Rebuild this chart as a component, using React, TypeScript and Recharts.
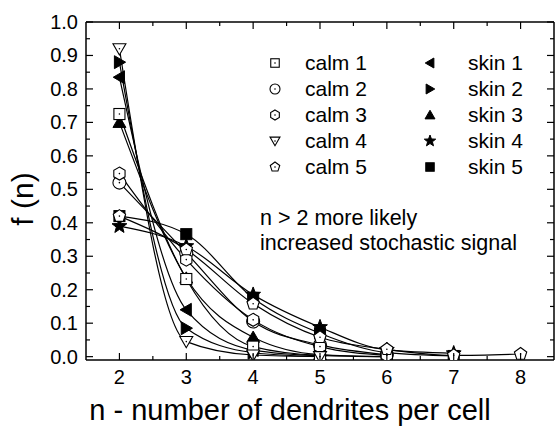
import React from 'react';
import { LineChart, Line, XAxis, YAxis, Label, ReferenceLine } from 'recharts';

document.body.style.margin = '0';

// n values (x) and fitted fractions per series
const nValues = [2, 3, 4, 5, 6, 7, 8];

const calm1 = [0.725, 0.232, 0.03, 0.004, 0.0, null, null];
const calm2 = [0.52, 0.31, 0.105, 0.035, 0.006, null, null];
const calm3 = [0.547, 0.29, 0.11, 0.03, 0.004, null, null];
const calm4 = [0.92, 0.045, 0.005, 0.0, null, null, null];
const calm5 = [0.42, 0.32, 0.158, 0.058, 0.022, 0.004, 0.008];
const skin1 = [0.835, 0.14, 0.02, 0.002, null, null, null];
const skin2 = [0.88, 0.085, 0.012, 0.0, null, null, null];
const skin3 = [0.7, 0.235, 0.058, 0.006, 0.0, null, null];
const skin4 = [0.39, 0.33, 0.185, 0.088, 0.02, 0.01, null];
const skin5 = [0.42, 0.366, 0.175, 0.07, 0.012, 0.002, null];

const seriesNames = ['calm 1', 'calm 2', 'calm 3', 'calm 4', 'calm 5', 'skin 1', 'skin 2', 'skin 3', 'skin 4', 'skin 5'];
const seriesShapes = ['square', 'circle', 'hexagon', 'down', 'pentagon', 'left', 'right', 'up', 'star', 'fsquare'];
const seriesValues = [calm1, calm2, calm3, calm4, calm5, skin1, skin2, skin3, skin4, skin5];

// major + minor ticks together; only the major ones get a label
const xTicks = [2, 2.5, 3, 3.5, 4, 4.5, 5, 5.5, 6, 6.5, 7, 7.5, 8];
const yTicks = [0, 0.05, 0.1, 0.15, 0.2, 0.25, 0.3, 0.35, 0.4, 0.45, 0.5, 0.55, 0.6, 0.65, 0.7, 0.75, 0.8, 0.85, 0.9, 0.95, 1.0];

const note1 = 'n > 2 more likely';
const note2 = 'increased stochastic signal';

const PLOT_TOP = 22;
const PLOT_RIGHT = 554;

function polygon(cx: number, cy: number, r: number, n: number, rot: number) {
  const pts: string[] = [];
  for (let i = 0; i < n; i++) {
    const a = rot + (i * 2 * Math.PI) / n;
    pts.push(`${cx + r * Math.cos(a)},${cy + r * Math.sin(a)}`);
  }
  return pts.join(' ');
}

function starPoints(cx: number, cy: number, r: number) {
  const pts: string[] = [];
  for (let i = 0; i < 10; i++) {
    const a = -Math.PI / 2 + (i * Math.PI) / 5;
    const rr = i % 2 === 0 ? r : r * 0.42;
    pts.push(`${cx + rr * Math.cos(a)},${cy + rr * Math.sin(a)}`);
  }
  return pts.join(' ');
}

function Marker({ cx, cy, shape, r }: { cx: number; cy: number; shape: string; r: number }) {
  const open = { fill: '#fff', stroke: '#000', strokeWidth: 1.1 };
  const solid = { fill: '#000', stroke: '#000', strokeWidth: 1 };
  const dot = <circle cx={cx} cy={cy} r={0.8} fill="#000" />;
  switch (shape) {
    case 'square':
      return <g><rect x={cx - r * 0.85} y={cy - r * 0.85} width={r * 1.7} height={r * 1.7} {...open} />{dot}</g>;
    case 'circle':
      return <g><circle cx={cx} cy={cy} r={r} {...open} />{dot}</g>;
    case 'hexagon':
      return <g><polygon points={polygon(cx, cy, r, 6, -Math.PI / 2)} {...open} />{dot}</g>;
    case 'down':
      return <g><polygon points={polygon(cx, cy - r * 0.2, r * 1.15, 3, Math.PI / 2)} {...open} />{dot}</g>;
    case 'pentagon':
      return <g><polygon points={polygon(cx, cy, r, 5, -Math.PI / 2)} {...open} />{dot}</g>;
    case 'left':
      return <polygon points={polygon(cx + r * 0.2, cy, r * 1.15, 3, Math.PI)} {...solid} />;
    case 'right':
      return <polygon points={polygon(cx - r * 0.2, cy, r * 1.15, 3, 0)} {...solid} />;
    case 'up':
      return <polygon points={polygon(cx, cy + r * 0.2, r * 1.15, 3, -Math.PI / 2)} {...solid} />;
    case 'star':
      return <polygon points={starPoints(cx, cy, r * 1.2)} {...solid} />;
    default:
      return <rect x={cx - r * 0.85} y={cy - r * 0.85} width={r * 1.7} height={r * 1.7} {...solid} />;
  }
}

const isMajor = (v: number, step: number) => Math.abs(v / step - Math.round(v / step)) < 1e-6;

// inward ticks on bottom and top, label under the bottom ones
function XTick({ x, y, payload }: any) {
  const major = isMajor(payload.value, 1);
  const len = major ? 7 : 4;
  return (
    <g>
      <line x1={x} y1={y} x2={x} y2={y - len} stroke="#000" strokeWidth={1.2} />
      <line x1={x} y1={PLOT_TOP} x2={x} y2={PLOT_TOP + len} stroke="#000" strokeWidth={1.2} />
      {major && (
        <text x={x} y={y + 24} textAnchor="middle" fontSize={20} fill="#000">{payload.value}</text>
      )}
    </g>
  );
}

// inward ticks on left and right, label left of the axis
function YTick({ x, y, payload }: any) {
  const major = isMajor(payload.value, 0.1);
  const len = major ? 7 : 4;
  return (
    <g>
      <line x1={x} y1={y} x2={x + len} y2={y} stroke="#000" strokeWidth={1.2} />
      <line x1={PLOT_RIGHT} y1={y} x2={PLOT_RIGHT - len} y2={y} stroke="#000" strokeWidth={1.2} />
      {major && (
        <text x={x - 8} y={y + 7} textAnchor="end" fontSize={20} fill="#000">{payload.value.toFixed(1)}</text>
      )}
    </g>
  );
}

const font = '"Liberation Sans", Arial, sans-serif';

export default function App() {
  const series = seriesNames.map((name, k) => ({
    name,
    shape: seriesShapes[k],
    data: nValues
      .map((n, i) => ({ n, f: seriesValues[k][i] }))
      .filter((d) => d.f !== null),
  }));
  // filled ones first so the open markers sit on top
  const drawOrder = [...series.slice(5), ...series.slice(0, 5)];

  return (
    <div style={{ position: 'relative', width: 556, height: 431, fontFamily: font, background: '#fff' }}>
      <LineChart width={556} height={431} margin={{ top: PLOT_TOP, right: 556 - PLOT_RIGHT, bottom: 0, left: 0 }}>
        <XAxis
          xAxisId="x"
          type="number"
          dataKey="n"
          domain={[1.5, 8.5]}
          ticks={xTicks}
          interval={0}
          allowDataOverflow
          height={71}
          tickLine={false}
          tickSize={0}
          tickMargin={0}
          axisLine={{ stroke: '#000', strokeWidth: 1.5 }}
          tick={<XTick />}
        >
          <Label value="n - number of dendrites per cell" position="insideBottom" offset={11} dx={-30} style={{ fontSize: 29, fill: '#000' }} />
        </XAxis>
        <YAxis
          yAxisId="y"
          type="number"
          domain={[-0.01, 1.0]}
          ticks={yTicks}
          interval={0}
          allowDataOverflow
          width={86}
          tickLine={false}
          tickSize={0}
          tickMargin={0}
          axisLine={{ stroke: '#000', strokeWidth: 1.5 }}
          tick={<YTick />}
        >
          <Label value="f (n)" angle={-90} position="insideLeft" offset={22} dy={8} style={{ fontSize: 30, fill: '#000', textAnchor: 'middle' }} />
        </YAxis>

        <ReferenceLine xAxisId="x" yAxisId="y" y={1.0} stroke="#000" strokeWidth={1.5} />
        <ReferenceLine xAxisId="x" yAxisId="y" x={8.5} stroke="#000" strokeWidth={1.5} />

        {drawOrder.map((s) => (
          <Line
            key={s.name}
            data={s.data}
            dataKey="f"
            name={s.name}
            xAxisId="x"
            yAxisId="y"
            type="monotone"
            stroke="#000"
            strokeWidth={1.2}
            activeDot={false}
            isAnimationActive={false}
            dot={(p: any) => <Marker key={`${s.name}-${p.index}`} cx={p.cx} cy={p.cy} shape={s.shape} r={6.5} />}
          />
        ))}
      </LineChart>

      {series.map((s, k) => {
        const col = k < 5 ? 0 : 1;
        const row = k % 5;
        const cy = 63 + row * 26;
        const symX = col === 0 ? 275 : 430;
        const textX = col === 0 ? 305 : 468;
        return (
          <React.Fragment key={s.name}>
            <svg width={20} height={20} style={{ position: 'absolute', left: symX - 10, top: cy - 10 }}>
              <Marker cx={10} cy={10} shape={s.shape} r={5} />
            </svg>
            <div style={{ position: 'absolute', left: textX, top: cy - 12, fontSize: 21, lineHeight: '24px', color: '#000', whiteSpace: 'nowrap' }}>{s.name}</div>
          </React.Fragment>
        );
      })}
      <div style={{ position: 'absolute', left: 260, top: 206, fontSize: 21.5, lineHeight: '25px', color: '#000', whiteSpace: 'nowrap' }}>
        <div>{note1}</div>
        <div>{note2}</div>
      </div>
    </div>
  );
}
